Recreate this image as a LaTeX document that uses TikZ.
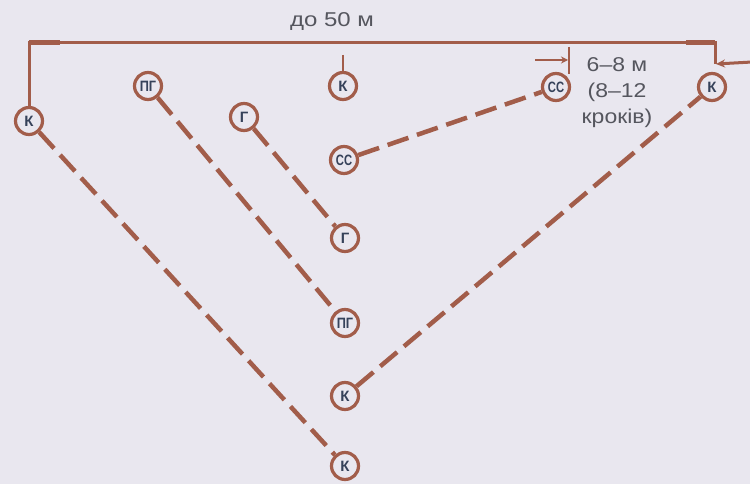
\documentclass[tikz,border=0pt]{standalone}
\usepackage{fontspec}
\setmainfont{Liberation Sans}
\usetikzlibrary{arrows.meta}
\definecolor{bg}{HTML}{E9E7EF}
\definecolor{brn}{HTML}{A25D4A}
\definecolor{txt}{HTML}{55565E}
\definecolor{ltr}{HTML}{36425A}
\tikzset{
  man/.style={circle,draw=brn,line width=3.2pt,minimum size=27pt,inner sep=0pt,
    text=ltr,font=\fontsize{15}{15}\selectfont\bfseries},
  dline/.style={draw=brn,line width=4.5pt,dash pattern=on 22pt off 9pt},
  sline/.style={draw=brn,line width=3pt},
  lbl/.style={text=txt,font=\fontsize{20}{26}\selectfont,inner sep=0pt}
}
\begin{document}
\begin{tikzpicture}[x=1pt,y=-1pt]
\useasboundingbox (0,0) rectangle (750,484);
\fill[bg] (0,0) rectangle (750,484);
% soldiers
\node[man] (kL) at (29,121) {К};
\node[man] (pg1) at (148,86) {\scalebox{0.85}[1]{ПГ}};
\node[man] (g1) at (244,117) {Г};
\node[man] (kT) at (343,86) {К};
\node[man] (cc1) at (344,160) {\scalebox{0.75}[1]{СС}};
\node[man] (g2) at (345,238) {Г};
\node[man] (pg2) at (345,323) {\scalebox{0.85}[1]{ПГ}};
\node[man] (k2) at (345,396) {К};
\node[man] (k3) at (345,466) {К};
\node[man] (cc2) at (556,87) {\scalebox{0.75}[1]{СС}};
\node[man] (kR) at (712,87) {К};
% dashed connectors
\draw[dline] (kL) -- (k3);
\draw[dline] (pg1) -- (pg2);
\draw[dline] (g1) -- (g2);
\draw[dline] (cc1) -- (cc2);
\draw[dline] (k2) -- (kR);
% top bracket
\coordinate (tl) at (kL.north |- 0,43);
\coordinate (tr) at (715,43);
\coordinate (trb) at (715,64);
\draw[sline] (kL.north) -- (tl) -- (tr) -- (trb);
\coordinate (tl2) at (60,43);
\coordinate (tr2) at (686,43);
\draw[brn,line width=5pt] (tl) -- (tl2);
\draw[brn,line width=5pt] (tr2) -- (tr);
\coordinate (ar) at (752,62);
\coordinate (arT) at (716,64);
\draw[brn,line width=3pt,-{Stealth[length=9pt,width=8pt]}] (ar) -- (arT);
% top K tick
\coordinate (kt0) at (343,55);
\draw[brn,line width=2.5pt] (kt0) -- (kT.north);
% interval mark at right CC
\coordinate (tk1) at (569,47);
\coordinate (tk2) at (569,74);
\draw[brn,line width=2.5pt] (tk1) -- (tk2);
\coordinate (ia) at (535,60);
\coordinate (ib) at (568,60);
\draw[brn,line width=2.5pt,-{Stealth[length=7pt,width=7pt]}] (ia) -- (ib);
% labels
\node[lbl] (t50) at (332,22) {\scalebox{1.2}[1]{до 50 м}};
\node[lbl,align=center] (t68) at (617,93) {\scalebox{1.15}[1]{6–8 м}\\\scalebox{1.15}[1]{(8–12}\\\scalebox{1.15}[1]{кроків)}};
\end{tikzpicture}
\end{document}
